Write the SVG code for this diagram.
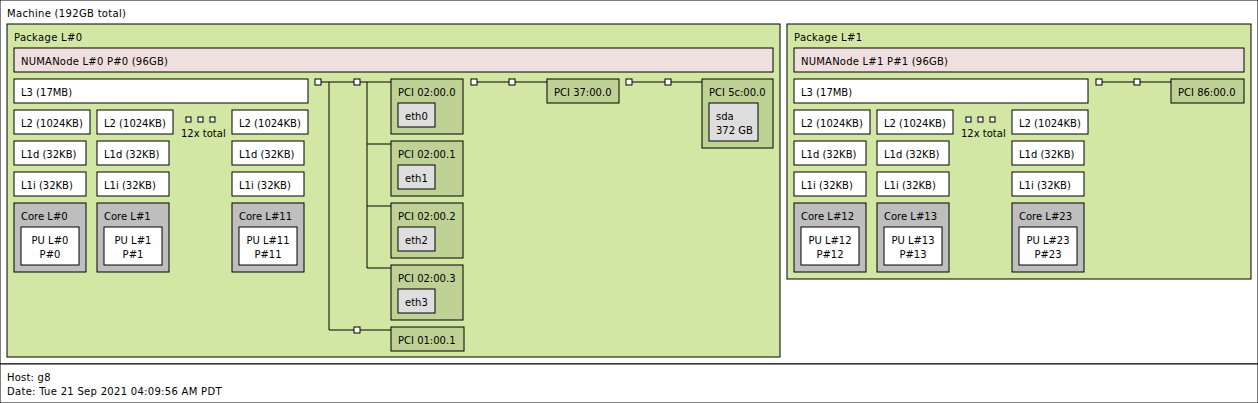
<svg xmlns="http://www.w3.org/2000/svg" width="1258" height="403" viewBox="0 0 1258 403">
<style>
rect{stroke:#000;stroke-width:1}
text{font-family:"DejaVu Sans",sans-serif;font-size:10px;fill:#000}
.c{text-anchor:middle}
.machine{fill:#fff}
.pkg{fill:#d2e7a4}
.numa{fill:#efdfde}
.cache{fill:#fff}
.core{fill:#bebebe}
.pu{fill:#fff}
.pci{fill:#bfd295}
.os{fill:#dedede}
.br{fill:#fff}
.dot{fill:#fff}
#connectors line{stroke:#000;stroke-width:1;fill:none}
</style>
<g id="machine">
<rect class="machine" x="0" y="0" width="1258" height="364"/>
<text x="7" y="17" textLength="119" lengthAdjust="spacing">Machine (192GB total)</text>
</g>
<g id="package0">
<rect class="pkg" x="7" y="24" width="773" height="333"/>
<text x="14" y="41" textLength="68" lengthAdjust="spacing">Package L#0</text>
</g>
<g id="package1">
<rect class="pkg" x="787" y="24" width="464" height="255"/>
<text x="794" y="41" textLength="68" lengthAdjust="spacing">Package L#1</text>
</g>

<g id="connectors">
<line x1="318" y1="82" x2="391" y2="82"/>
<line x1="329" y1="82" x2="329" y2="330"/>
<line x1="329" y1="330" x2="391" y2="330"/>
<line x1="367" y1="82" x2="367" y2="268"/>
<line x1="367" y1="144" x2="391" y2="144"/>
<line x1="367" y1="206" x2="391" y2="206"/>
<line x1="367" y1="268" x2="391" y2="268"/>
<line x1="474" y1="82" x2="547" y2="82"/>
<line x1="629" y1="82" x2="702" y2="82"/>
<line x1="1099" y1="82" x2="1171" y2="82"/>
</g>
<g id="bridges">
<rect class="br" x="315" y="79" width="6" height="6"/>
<rect class="br" x="354" y="79" width="6" height="6"/>
<rect class="br" x="354" y="327" width="6" height="6"/>
<rect class="br" x="471" y="79" width="6" height="6"/>
<rect class="br" x="509" y="79" width="6" height="6"/>
<rect class="br" x="626" y="79" width="6" height="6"/>
<rect class="br" x="665" y="79" width="6" height="6"/>
<rect class="br" x="1096" y="79" width="6" height="6"/>
<rect class="br" x="1134" y="79" width="6" height="6"/>
</g>

<g id="numa0"><rect class="numa" x="14" y="48" width="759" height="24"/><text x="21" y="65" textLength="147" lengthAdjust="spacing">NUMANode L#0 P#0 (96GB)</text></g>
<g id="l3-0"><rect class="cache" x="14" y="79" width="294" height="24"/><text x="21" y="96">L3 (17MB)</text></g>
<g id="l2-0"><rect class="cache" x="14" y="110" width="76" height="24"/><text x="21" y="127">L2 (1024KB)</text></g>
<g id="l2-1"><rect class="cache" x="97" y="110" width="76" height="24"/><text x="104" y="127">L2 (1024KB)</text></g>
<g id="l2-11"><rect class="cache" x="232" y="110" width="76" height="24"/><text x="239" y="127">L2 (1024KB)</text></g>
<g id="more0"><rect class="dot" x="186" y="117" width="5" height="5"/><rect class="dot" x="198" y="117" width="5" height="5"/><rect class="dot" x="210" y="117" width="5" height="5"/><text x="181" y="137">12x total</text></g>
<g id="l1d-0"><rect class="cache" x="14" y="141" width="72" height="24"/><text x="21" y="158">L1d (32KB)</text></g>
<g id="l1d-1"><rect class="cache" x="97" y="141" width="72" height="24"/><text x="104" y="158">L1d (32KB)</text></g>
<g id="l1d-11"><rect class="cache" x="232" y="141" width="72" height="24"/><text x="239" y="158">L1d (32KB)</text></g>
<g id="l1i-0"><rect class="cache" x="14" y="172" width="72" height="24"/><text x="21" y="189">L1i (32KB)</text></g>
<g id="l1i-1"><rect class="cache" x="97" y="172" width="72" height="24"/><text x="104" y="189">L1i (32KB)</text></g>
<g id="l1i-11"><rect class="cache" x="232" y="172" width="72" height="24"/><text x="239" y="189">L1i (32KB)</text></g>
<g id="core0"><rect class="core" x="14" y="203" width="72" height="69"/><text x="21" y="220">Core L#0</text></g>
<g id="pu0"><rect class="pu" x="21" y="227" width="58" height="38"/><text class="c" x="50" y="244">PU L#0</text><text class="c" x="50" y="258">P#0</text></g>
<g id="core1"><rect class="core" x="97" y="203" width="72" height="69"/><text x="104" y="220">Core L#1</text></g>
<g id="pu1"><rect class="pu" x="104" y="227" width="58" height="38"/><text class="c" x="133" y="244">PU L#1</text><text class="c" x="133" y="258">P#1</text></g>
<g id="core11"><rect class="core" x="232" y="203" width="72" height="69"/><text x="239" y="220">Core L#11</text></g>
<g id="pu11"><rect class="pu" x="239" y="227" width="58" height="38"/><text class="c" x="268" y="244">PU L#11</text><text class="c" x="268" y="258">P#11</text></g>

<g id="pci-02-00-0"><rect class="pci" x="391" y="79" width="72" height="55"/><text x="398" y="96">PCI 02:00.0</text></g>
<g id="eth0"><rect class="os" x="398" y="103" width="37" height="24"/><text x="405" y="120">eth0</text></g>
<g id="pci-02-00-1"><rect class="pci" x="391" y="141" width="72" height="55"/><text x="398" y="158">PCI 02:00.1</text></g>
<g id="eth1"><rect class="os" x="398" y="165" width="37" height="24"/><text x="405" y="182">eth1</text></g>
<g id="pci-02-00-2"><rect class="pci" x="391" y="203" width="72" height="55"/><text x="398" y="220">PCI 02:00.2</text></g>
<g id="eth2"><rect class="os" x="398" y="227" width="37" height="24"/><text x="405" y="244">eth2</text></g>
<g id="pci-02-00-3"><rect class="pci" x="391" y="265" width="72" height="55"/><text x="398" y="282">PCI 02:00.3</text></g>
<g id="eth3"><rect class="os" x="398" y="289" width="37" height="24"/><text x="405" y="306">eth3</text></g>
<g id="pci-01-00-1"><rect class="pci" x="391" y="327" width="73" height="24"/><text x="398" y="344">PCI 01:00.1</text></g>
<g id="pci-37-00-0"><rect class="pci" x="547" y="79" width="72" height="24"/><text x="554" y="96">PCI 37:00.0</text></g>
<g id="pci-5c-00-0"><rect class="pci" x="702" y="79" width="71" height="69"/><text x="709" y="96">PCI 5c:00.0</text></g>
<g id="sda"><rect class="os" x="709" y="103" width="49" height="38"/><text x="716" y="120">sda</text><text x="716" y="134">372 GB</text></g>

<g id="numa1"><rect class="numa" x="794" y="48" width="450" height="24"/><text x="801" y="65" textLength="147" lengthAdjust="spacing">NUMANode L#1 P#1 (96GB)</text></g>
<g id="l3-1"><rect class="cache" x="794" y="79" width="294" height="24"/><text x="801" y="96">L3 (17MB)</text></g>
<g id="pci-86-00-0"><rect class="pci" x="1171" y="79" width="73" height="24"/><text x="1178" y="96">PCI 86:00.0</text></g>
<g id="l2-12"><rect class="cache" x="794" y="110" width="76" height="24"/><text x="801" y="127">L2 (1024KB)</text></g>
<g id="l2-13"><rect class="cache" x="877" y="110" width="76" height="24"/><text x="884" y="127">L2 (1024KB)</text></g>
<g id="l2-23"><rect class="cache" x="1012" y="110" width="76" height="24"/><text x="1019" y="127">L2 (1024KB)</text></g>
<g id="more1"><rect class="dot" x="966" y="117" width="5" height="5"/><rect class="dot" x="978" y="117" width="5" height="5"/><rect class="dot" x="990" y="117" width="5" height="5"/><text x="961" y="137">12x total</text></g>
<g id="l1d-12"><rect class="cache" x="794" y="141" width="72" height="24"/><text x="801" y="158">L1d (32KB)</text></g>
<g id="l1d-13"><rect class="cache" x="877" y="141" width="72" height="24"/><text x="884" y="158">L1d (32KB)</text></g>
<g id="l1d-23"><rect class="cache" x="1012" y="141" width="72" height="24"/><text x="1019" y="158">L1d (32KB)</text></g>
<g id="l1i-12"><rect class="cache" x="794" y="172" width="72" height="24"/><text x="801" y="189">L1i (32KB)</text></g>
<g id="l1i-13"><rect class="cache" x="877" y="172" width="72" height="24"/><text x="884" y="189">L1i (32KB)</text></g>
<g id="l1i-23"><rect class="cache" x="1012" y="172" width="72" height="24"/><text x="1019" y="189">L1i (32KB)</text></g>
<g id="core12"><rect class="core" x="794" y="203" width="72" height="69"/><text x="801" y="220">Core L#12</text></g>
<g id="pu12"><rect class="pu" x="801" y="227" width="58" height="38"/><text class="c" x="830" y="244">PU L#12</text><text class="c" x="830" y="258">P#12</text></g>
<g id="core13"><rect class="core" x="877" y="203" width="72" height="69"/><text x="884" y="220">Core L#13</text></g>
<g id="pu13"><rect class="pu" x="884" y="227" width="58" height="38"/><text class="c" x="913" y="244">PU L#13</text><text class="c" x="913" y="258">P#13</text></g>
<g id="core23"><rect class="core" x="1012" y="203" width="72" height="69"/><text x="1019" y="220">Core L#23</text></g>
<g id="pu23"><rect class="pu" x="1019" y="227" width="58" height="38"/><text class="c" x="1048" y="244">PU L#23</text><text class="c" x="1048" y="258">P#23</text></g>

<g id="legend">
<rect class="machine" x="0" y="364" width="1258" height="39"/>
<text x="7" y="381" textLength="43.5" lengthAdjust="spacing">Host: g8</text>
<text x="7" y="395" textLength="214.5" lengthAdjust="spacing">Date: Tue 21 Sep 2021 04:09:56 AM PDT</text>
</g>
</svg>
